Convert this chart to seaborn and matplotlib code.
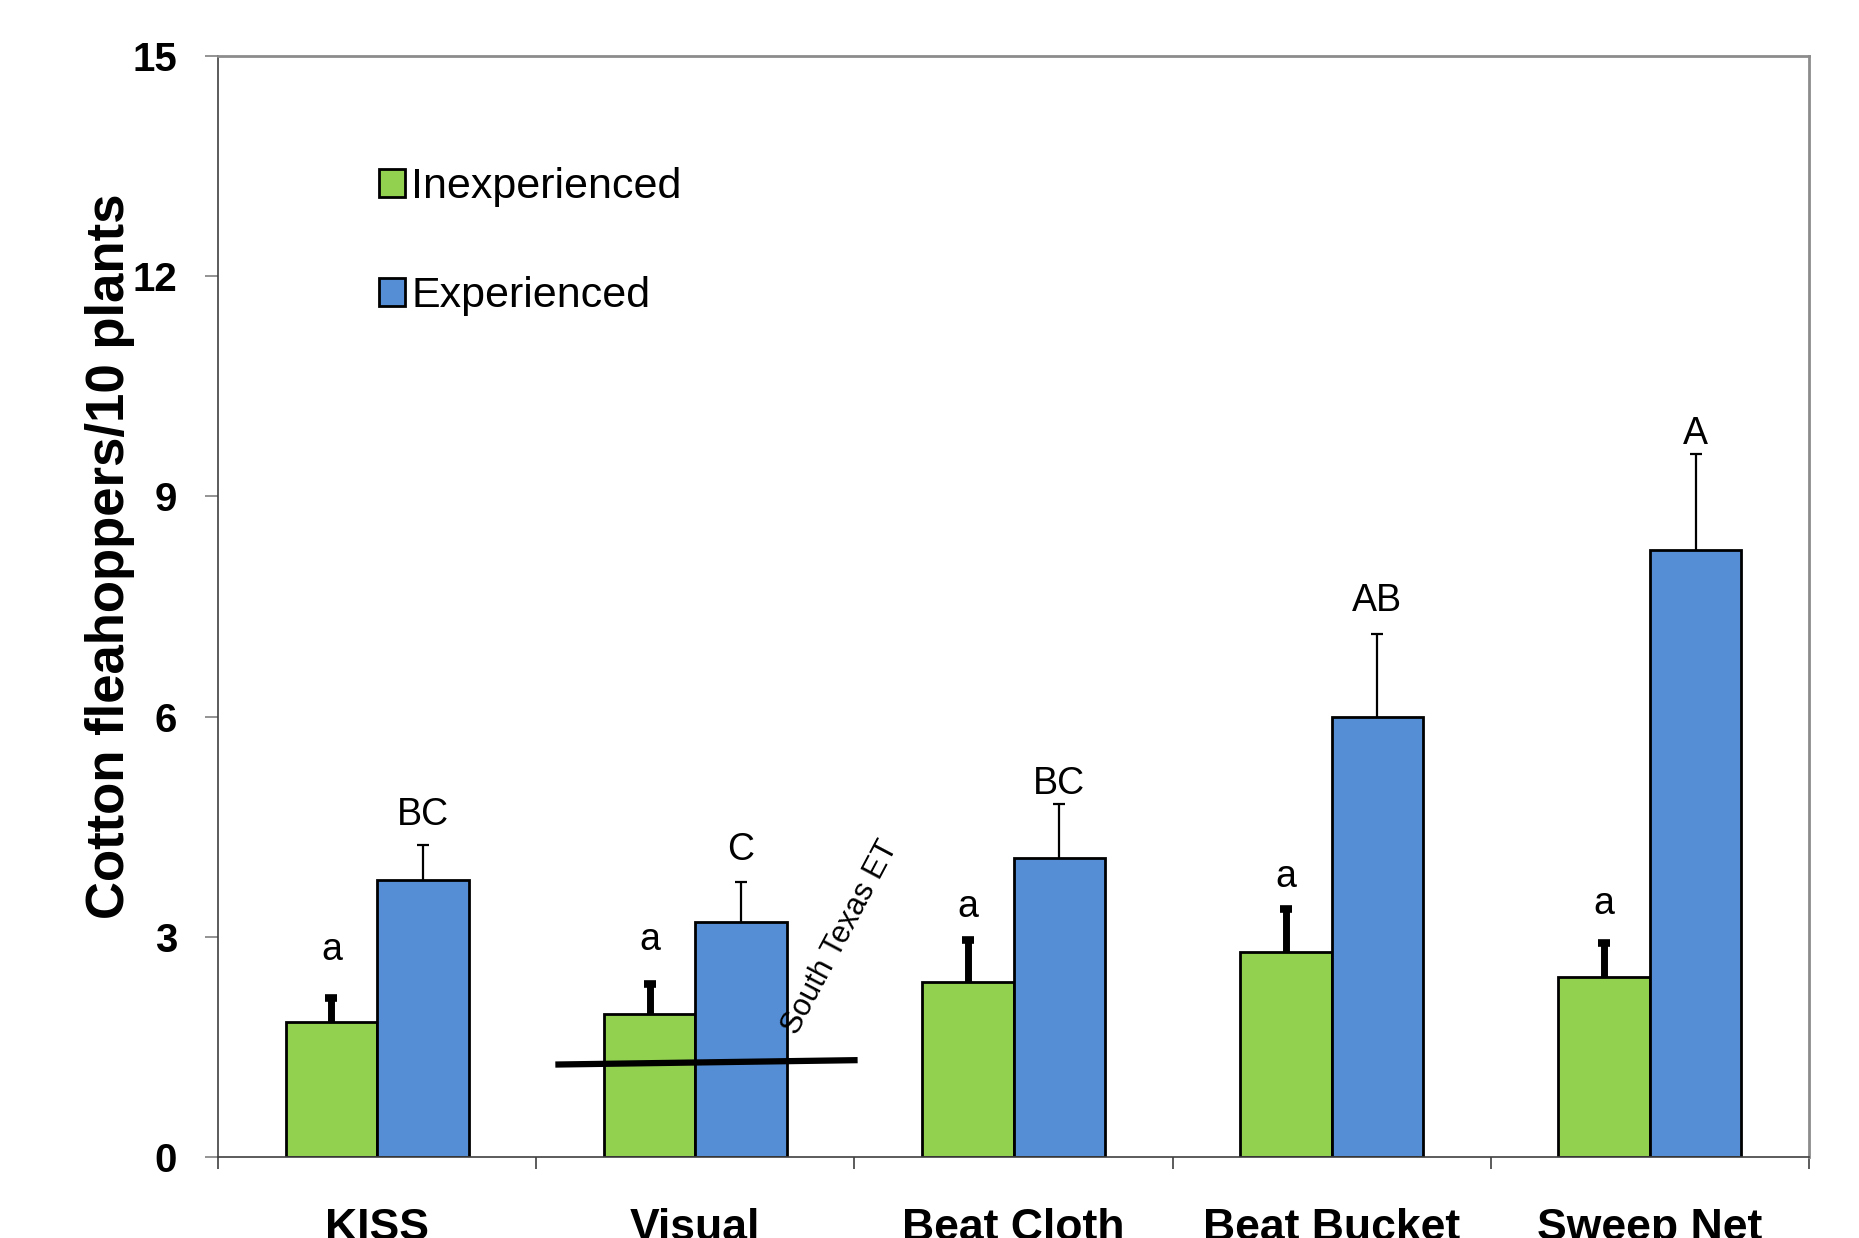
import numpy as np
import pandas as pd
import matplotlib
matplotlib.use("Agg")
import matplotlib.pyplot as plt
import seaborn as sns

# Sampling methods and the two observer groups
methods = ["KISS", "Visual", "Beat Cloth", "Beat Bucket", "Sweep Net"]
groups = ["Inexperienced", "Experienced"]

# Mean fleahoppers per 10 plants and standard errors
inexp_mean = [1.84, 1.95, 2.39, 2.79, 2.45]
inexp_se = [0.33, 0.41, 0.57, 0.59, 0.46]
exp_mean = [3.78, 3.20, 4.07, 5.99, 8.27]
exp_se = [0.47, 0.55, 0.74, 1.13, 1.31]

# Mean separation letters
inexp_letters = ["a", "a", "a", "a", "a"]
exp_letters = ["BC", "C", "BC", "AB", "A"]

# South Texas economic threshold line (category position, fleahoppers/10 plants)
et_x = [0.56, 1.51]
et_y = [1.26, 1.32]

y_ticks = [0, 3, 6, 9, 12, 15]

green = "#92D050"
blue = "#558ED5"

df = pd.DataFrame({
    "Method": methods * 2,
    "Group": [groups[0]] * len(methods) + [groups[1]] * len(methods),
    "Count": inexp_mean + exp_mean,
})

sns.set_theme(style="white")
plt.rcParams["font.family"] = ["Liberation Sans", "DejaVu Sans"]
plt.rcParams["text.color"] = "black"
plt.rcParams["axes.labelcolor"] = "black"
plt.rcParams["xtick.color"] = "black"
plt.rcParams["ytick.color"] = "black"

fig = plt.figure(figsize=(18.59, 12.38), dpi=100)
ax = fig.add_axes([0.1173, 0.0654, 0.8558, 0.8894])

sns.barplot(data=df, x="Method", y="Count", hue="Group", order=methods,
            hue_order=groups, palette=[green, blue], saturation=1,
            width=0.575, errorbar=None, edgecolor="black", linewidth=2, ax=ax)

# Upper error bars and letters (letter gaps above each bar in points)
styles = [
    dict(elinewidth=5, capsize=4.5, capthick=5.5,
         gaps=[27, 24.5, 16.5, 16, 21.5]),
    dict(elinewidth=1.6, capsize=4.3, capthick=1.6,
         gaps=[14.5, 15.5, 7, 17, 7]),
]
for cont, ses, letters, st in zip(ax.containers, [inexp_se, exp_se],
                                  [inexp_letters, exp_letters], styles):
    for bar, se, lab, gap in zip(cont, ses, letters, st["gaps"]):
        x = bar.get_x() + bar.get_width() / 2
        h = bar.get_height()
        _, caps, _ = ax.errorbar(x, h, yerr=[[0], [se]], fmt="none",
                                 ecolor="black", elinewidth=st["elinewidth"],
                                 capsize=st["capsize"],
                                 capthick=st["capthick"], zorder=3)
        # keep only the upper cap
        for cap in caps:
            if np.allclose(cap.get_ydata(), h):
                cap.set_visible(False)
        ax.annotate(lab, (x, h + se), xytext=(0, gap),
                    textcoords="offset points", ha="center", va="baseline",
                    fontsize=27, color="black")

# Economic threshold
ax.plot(et_x, et_y, color="black", lw=4.5, solid_capstyle="butt", zorder=4)
ax.text(1.318, 1.65, "South Texas ET", rotation=62, rotation_mode="anchor",
        ha="left", va="baseline", fontsize=22, color="black")

# Axes styling
ax.set_ylim(0, 15)
ax.set_xlim(-0.5, len(methods) - 0.5)
ax.set_yticks(y_ticks)
ax.set_yticklabels([str(t) for t in y_ticks], fontsize=29, fontweight="bold")
ax.set_xticks(range(len(methods)))
ax.set_xticklabels(methods, fontsize=32, fontweight="bold")
ax.set_xticks(np.arange(-0.5, len(methods), 1.0), minor=True)
ax.tick_params(axis="x", which="major", length=0, pad=37, bottom=True)
ax.tick_params(axis="x", which="minor", length=8.5, width=1.2,
               color="#404040", bottom=True, direction="out")
ax.tick_params(axis="y", which="major", length=9.4, width=1.2,
               color="#808080", pad=20, left=True, direction="out")
ax.set_xlabel("")
ax.set_ylabel("Cotton fleahoppers/10 plants", fontsize=38, fontweight="bold")
ax.yaxis.set_label_coords(-0.052, 0.546)

for side in ["top", "right"]:
    ax.spines[side].set_color("#8c8c8c")
    ax.spines[side].set_linewidth(2)
for side in ["left", "bottom"]:
    ax.spines[side].set_color("#404040")
    ax.spines[side].set_linewidth(1.2)

handles, labels = ax.get_legend_handles_labels()
ax.legend(handles, labels, loc="upper left", bbox_to_anchor=(0.101, 0.899),
          frameon=False, fontsize=31, handlelength=0.6, handleheight=0.6,
          handletextpad=0.15, labelspacing=1.6, borderaxespad=0, borderpad=0)

fig.savefig("out.png", dpi=100)
